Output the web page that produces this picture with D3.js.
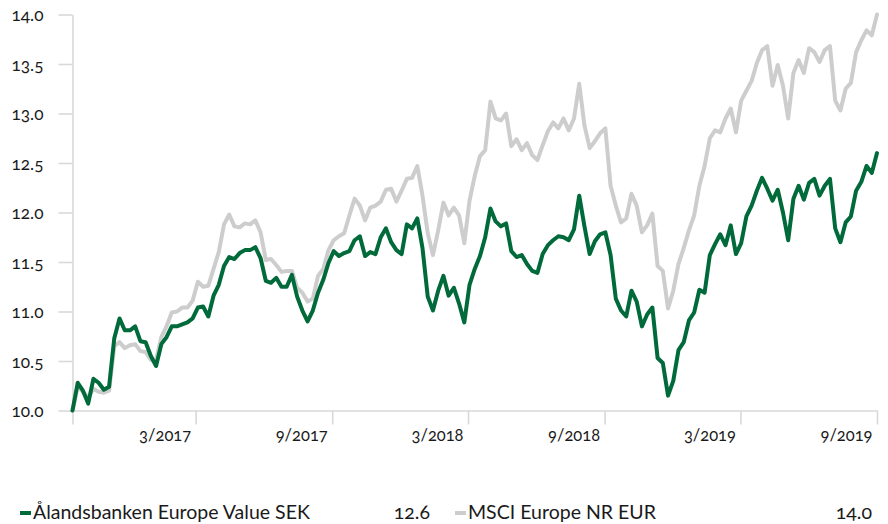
<!DOCTYPE html>
<html>
<head>
<meta charset="utf-8">
<script src="https://cdn.jsdelivr.net/npm/d3@7"></script>
<style>
  html, body { margin: 0; padding: 0; background: #fff; }
  svg { display: block; }
  text { font-family: Lato, "Noto Sans", sans-serif; font-feature-settings: "onum" 1; font-variant-numeric: oldstyle-nums; fill: #1a1a1a; }
</style>
</head>
<body>
<svg id="chart" width="888" height="524"></svg>
<script>
// ---- data ----
const seriesNames = ["Ålandsbanken Europe Value SEK", "MSCI Europe NR EUR"];
const lastValues = ["12.6", "14.0"];
const startDay = "2016-10-17";      // weekly observations
const fundValues = [
  10.00,10.28,10.20,10.07,10.32,10.28,10.21,10.24,10.73,10.93,
  10.81,10.81,10.85,10.70,10.69,10.55,10.45,10.67,10.74,10.85,
  10.85,10.87,10.89,10.93,11.04,11.05,10.95,11.16,11.27,11.46,
  11.55,11.53,11.59,11.62,11.62,11.65,11.54,11.31,11.29,11.34,
  11.25,11.25,11.37,11.15,11.01,10.90,11.01,11.19,11.32,11.49,
  11.61,11.56,11.59,11.61,11.72,11.76,11.56,11.60,11.58,11.75,
  11.84,11.70,11.62,11.58,11.88,11.84,11.94,11.64,11.15,11.01,
  11.21,11.36,11.16,11.24,11.08,10.89,11.27,11.43,11.56,11.75,
  12.04,11.91,11.86,11.89,11.61,11.55,11.57,11.48,11.41,11.39,
  11.58,11.67,11.72,11.76,11.75,11.72,11.83,12.17,11.86,11.58,
  11.71,11.78,11.80,11.57,11.13,11.01,10.95,11.21,11.10,10.85,
  10.97,11.04,10.53,10.48,10.15,10.30,10.61,10.69,10.91,10.99,
  11.22,11.19,11.57,11.68,11.78,11.67,11.87,11.58,11.69,11.96,
  12.07,12.22,12.35,12.24,12.12,12.23,12.00,11.72,12.14,12.27,
  12.13,12.30,12.34,12.17,12.27,12.34,11.84,11.70,11.90,11.96,
  12.22,12.31,12.47,12.40,12.60
];
const indexValues = [
  10.00,10.24,10.19,10.13,10.22,10.19,10.18,10.20,10.65,10.69,
  10.63,10.66,10.67,10.60,10.59,10.51,10.51,10.74,10.85,10.99,
  11.00,11.04,11.04,11.11,11.30,11.25,11.26,11.43,11.60,11.88,
  11.98,11.86,11.85,11.89,11.88,11.92,11.80,11.52,11.53,11.47,
  11.40,11.41,11.41,11.24,11.19,11.10,11.13,11.36,11.43,11.62,
  11.72,11.76,11.79,11.97,12.14,12.07,11.92,12.05,12.07,12.11,
  12.23,12.24,12.11,12.22,12.34,12.35,12.47,12.17,11.79,11.57,
  11.82,12.10,11.97,12.05,11.97,11.69,12.12,12.37,12.57,12.63,
  13.12,12.95,12.93,13.00,12.67,12.74,12.63,12.70,12.58,12.53,
  12.68,12.82,12.91,12.85,12.95,12.83,12.95,13.30,12.88,12.65,
  12.72,12.80,12.85,12.27,12.07,11.90,11.94,12.19,12.07,11.80,
  11.87,11.99,11.46,11.41,11.03,11.21,11.48,11.64,11.82,11.97,
  12.27,12.47,12.75,12.83,12.81,12.95,13.05,12.81,13.13,13.23,
  13.33,13.51,13.64,13.68,13.28,13.49,13.28,12.95,13.41,13.54,
  13.41,13.66,13.62,13.52,13.64,13.68,13.13,13.03,13.25,13.31,
  13.62,13.74,13.84,13.79,14.00
];
const yTicks = [10.0, 10.5, 11.0, 11.5, 12.0, 12.5, 13.0, 13.5, 14.0];
const xTickDates = ["2016-10-17","2017-03-31","2017-09-30","2018-03-31","2018-09-30","2019-03-31","2019-09-30"];
const xTickLabels = ["", "3/2017", "9/2017", "3/2018", "9/2018", "3/2019", "9/2019"];

// ---- build ----
const parse = d3.utcParse("%Y-%m-%d");
const t0 = parse(startDay);
const dates = fundValues.map((_, i) => d3.utcDay.offset(t0, 7 * i));
const fund = dates.map((d, i) => ({ date: d, v: fundValues[i] }));
const index = dates.map((d, i) => ({ date: d, v: indexValues[i] }));

const svg = d3.select("#chart");
const axisColor = "#d9d9d9";
const green = "#006a3b";
const grey = "#cdcdcd";

// fit a text element's font size so that its width equals target
function fitWidth(sel, target) {
  const node = sel.node();
  const fs = parseFloat(sel.style("font-size"));
  const w = node.getComputedTextLength();
  if (w > 0) sel.style("font-size", (fs * target / w).toFixed(2) + "px");
  return fs * target / w;
}

const x = d3.scaleUtc().domain([dates[0], dates[dates.length - 1]]).range([72.5, 877]);
const y = d3.scaleLinear().domain([10, 14]).range([410.5, 14.5]);

// y axis
const yAxis = svg.append("g").attr("transform", "translate(72.5,0)")
  .call(d3.axisLeft(y).tickValues(yTicks).tickFormat(d3.format(".1f")).tickSize(14).tickSizeOuter(0));
yAxis.select(".domain").attr("stroke", axisColor).attr("stroke-width", 1.6);
yAxis.selectAll(".tick line").attr("stroke", axisColor).attr("stroke-width", 1.6);
const yText = yAxis.selectAll(".tick text").attr("x", -29).attr("dy", "0.35em")
  .style("font-size", "15px").attr("fill", "#1a1a1a");
const yfs = fitWidth(d3.select(yText.nodes()[yText.size() - 1]), 32);
yText.style("font-size", yfs.toFixed(2) + "px");

// x axis
const tickDates = xTickDates.map(parse);
const xAxis = svg.append("g").attr("transform", "translate(0,410.5)")
  .call(d3.axisBottom(x).tickValues(tickDates)
    .tickFormat((d, i) => xTickLabels[i]).tickSize(14).tickSizeOuter(0));
xAxis.select(".domain").attr("stroke", axisColor).attr("stroke-width", 1.6);
xAxis.selectAll(".tick line").attr("stroke", axisColor).attr("stroke-width", 1.6);
const xText = xAxis.selectAll(".tick text").attr("text-anchor", "end").attr("x", -5).attr("y", 30)
  .attr("dy", null).style("font-size", "15px").attr("fill", "#1a1a1a");
const xfs = fitWidth(d3.select(xText.nodes()[1]), 52);
xText.style("font-size", xfs.toFixed(2) + "px");
svg.selectAll(".domain").attr("fill", "none");

// lines
const line = d3.line().x(d => x(d.date)).y(d => y(d.v));
svg.append("path").datum(index).attr("d", line)
  .attr("fill", "none").attr("stroke", grey).attr("stroke-width", 4)
  .attr("stroke-linejoin", "round").attr("stroke-linecap", "round");
svg.append("path").datum(fund).attr("d", line)
  .attr("fill", "none").attr("stroke", green).attr("stroke-width", 4)
  .attr("stroke-linejoin", "round").attr("stroke-linecap", "round");

// legend
const legend = svg.append("g").attr("class", "legend");
const items = [
  { name: seriesNames[0], val: lastValues[0], color: green, x0: 20, valEnd: 430 },
  { name: seriesNames[1], val: lastValues[1], color: grey, x0: 455, valEnd: 872 }
];
let lfs = null;
items.forEach((it, k) => {
  legend.append("rect").attr("x", it.x0).attr("y", 511).attr("width", 11).attr("height", 4).attr("fill", it.color);
  const t = legend.append("text").attr("class", "lname").attr("x", it.x0 + 13).attr("y", 519).style("font-size", "17px").text(it.name);
  if (k === 0) lfs = fitWidth(t, 277);
  legend.append("text").attr("class", "lval").attr("x", it.valEnd).attr("y", 519).attr("text-anchor", "end").style("font-size", "17px").text(it.val);
});
legend.selectAll("text").style("font-size", lfs.toFixed(2) + "px");
</script>
</body>
</html>
